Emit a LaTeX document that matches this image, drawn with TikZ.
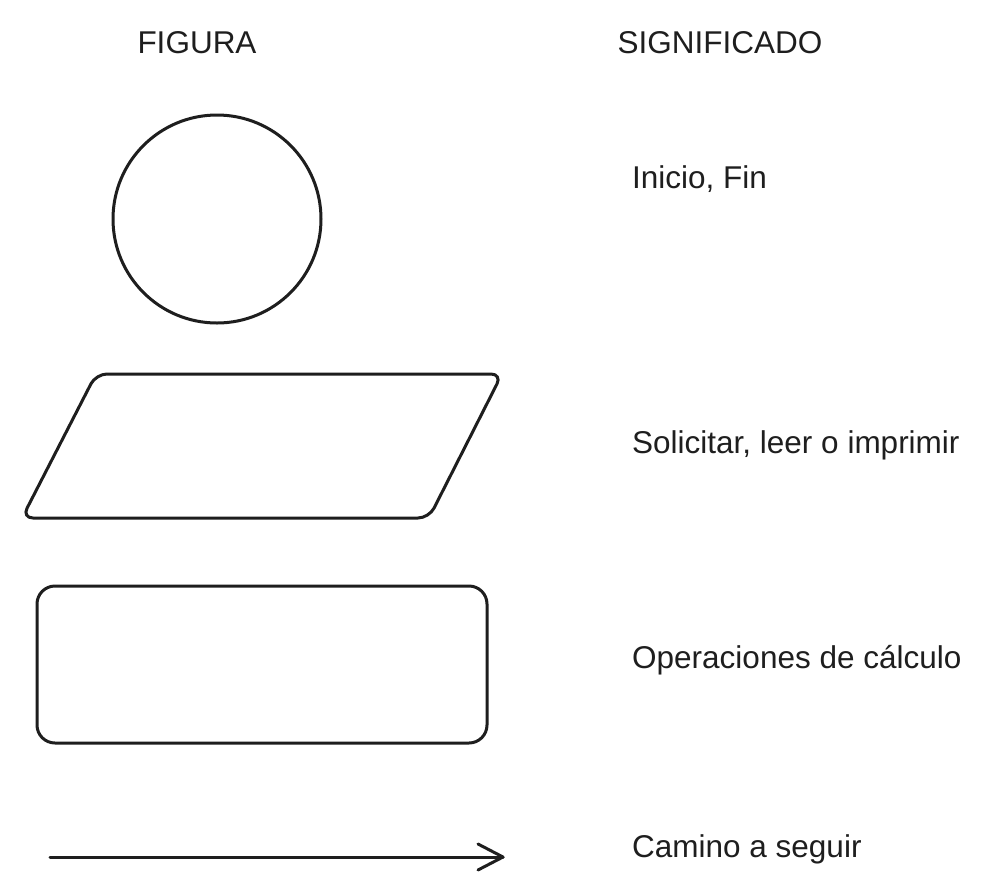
\documentclass[tikz,border=0pt]{standalone}
\usepackage{fontspec}
\setmainfont{Liberation Sans}
\definecolor{ink}{HTML}{1E1E1E}
\begin{document}
\begin{tikzpicture}[x=1pt,y=-1pt,
  shape line/.style={draw=ink,line width=3pt,line join=round,line cap=round},
  label text/.style={inner sep=0pt,anchor=base west,text=ink,font=\fontsize{31.5}{38}\selectfont},
  head text/.style={inner sep=0pt,anchor=base,text=ink,font=\fontsize{31.5}{38}\selectfont}]
\useasboundingbox[fill=white] (0,0) rectangle (985,892);
% headers
\node[head text] (hfig) at (197,53) {FIGURA};
\node[head text] (hsig) at (720,53) {SIGNIFICADO};
% circle
\node[shape line,circle,minimum size=208pt,inner sep=0pt] (circ) at (217,219) {};
% parallelogram
\draw[shape line,rounded corners=11pt] (96,374) -- (502,374) -- (429,518) -- (22,518) -- cycle;
\coordinate (para) at (262,446);
% rounded rectangle
\draw[shape line,rounded corners=18pt] (37,586) rectangle (487,743);
% arrow
\coordinate (astart) at (50,857);
\coordinate (aend) at (503,857);
\draw[shape line] (astart) -- (aend);
\draw[shape line] (478,844) -- (aend) -- (478,870);
% labels
\node[label text] (l1) at (632,188) {Inicio, Fin};
\node[label text] (l2) at (632,453) {Solicitar, leer o imprimir};
\node[label text] (l3) at (632,668) {Operaciones de cálculo};
\node[label text] (l4) at (632,857) {Camino a seguir};
\end{tikzpicture}
\end{document}
